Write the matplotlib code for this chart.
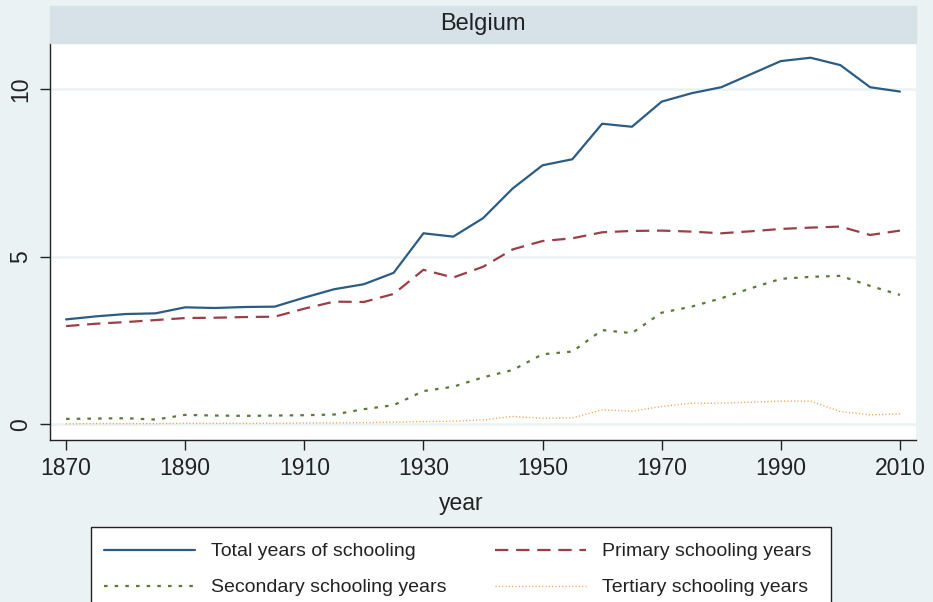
import matplotlib.pyplot as plt
from matplotlib.patches import Rectangle

# Belgium - average years of schooling, every 5 years
years = list(range(1870, 2011, 5))
total = [3.13, 3.22, 3.29, 3.31, 3.49, 3.47, 3.50, 3.51, 3.78, 4.03,
         4.18, 4.52, 5.70, 5.60, 6.15, 7.04, 7.73, 7.91, 8.97, 8.88,
         9.63, 9.88, 10.06, 10.45, 10.84, 10.94, 10.72, 10.06, 9.93]
primary = [2.93, 3.00, 3.05, 3.11, 3.17, 3.18, 3.20, 3.21, 3.45, 3.66,
           3.65, 3.89, 4.61, 4.38, 4.70, 5.22, 5.47, 5.55, 5.73, 5.77,
           5.78, 5.75, 5.70, 5.76, 5.83, 5.87, 5.90, 5.65, 5.78]
secondary = [0.16, 0.17, 0.18, 0.14, 0.28, 0.26, 0.25, 0.26, 0.27, 0.29,
             0.45, 0.57, 0.99, 1.12, 1.40, 1.62, 2.09, 2.17, 2.81, 2.72,
             3.33, 3.51, 3.76, 4.06, 4.34, 4.40, 4.43, 4.13, 3.86]
tertiary = [0.01, 0.02, 0.02, 0.02, 0.03, 0.03, 0.03, 0.03, 0.04, 0.04,
            0.05, 0.06, 0.08, 0.09, 0.13, 0.23, 0.18, 0.19, 0.43, 0.39,
            0.53, 0.63, 0.63, 0.66, 0.69, 0.69, 0.38, 0.28, 0.31]

labels = ['Total years of schooling', 'Primary schooling years',
          'Secondary schooling years', 'Tertiary schooling years']
xticks = [1870, 1890, 1910, 1930, 1950, 1970, 1990, 2010]
yticks = [0, 5, 10]

bg = '#eaf2f3'
plt.rcParams['font.family'] = ['Liberation Sans', 'DejaVu Sans']

fig = plt.figure(figsize=(9.33, 6.02), dpi=100, facecolor=bg)
ax = fig.add_axes([50/933, 1 - 440/602, 866/933, 397/602])

l1, = ax.plot(years, total, color='#2a5c84', lw=1.6, solid_capstyle='round')
l2, = ax.plot(years, primary, color='#9a3f48', lw=1.6, dashes=(6, 3.5))
l3, = ax.plot(years, secondary, color='#5a7a37', lw=1.6, dashes=(1.6, 3.2))
l4, = ax.plot(years, tertiary, color='#f0a050', lw=1.0, dashes=(0.8, 1.6))

ax.set_xlim(1867.3, 2012.7)
ax.set_ylim(-0.47, 11.38)
ax.set_xticks(xticks)
ax.set_yticks(yticks)
ax.grid(axis='y', color=bg, lw=1.8)
ax.set_axisbelow(True)
for s in ['top', 'right']:
    ax.spines[s].set_visible(False)
for s in ['left', 'bottom']:
    ax.spines[s].set_color('#222222')
    ax.spines[s].set_linewidth(1.0)
ax.tick_params(axis='both', direction='out', length=7, width=1.0,
               color='#222222', labelsize=16.5, labelcolor='#222222')
ax.tick_params(axis='x', pad=5)
ax.tick_params(axis='y', pad=6)
for t in ax.get_yticklabels():
    t.set_rotation(90)
    t.set_va('center')

ax.set_xlabel('year', fontsize=16.5, color='#222222')
ax.xaxis.set_label_coords(411/866, -0.132)

# title strip
fig.patches.append(Rectangle((50/933, 1 - 43/602), 866/933, 37/602,
                             transform=fig.transFigure, color='#d6e2e8', zorder=0))
fig.text(483/933, 1 - 24/602, 'Belgium', ha='center', va='center',
         fontsize=17, color='#222222')

# legend box (runs off the bottom of the figure)
fig.patches.append(Rectangle((91/933, -0.05), 740/933, 0.05 + 75/602,
                             transform=fig.transFigure, facecolor='white',
                             edgecolor='#222222', lw=1.0, zorder=0))
# legend fills column-wise, so order handles to read row-wise
fig.legend([l1, l3, l2, l4], [labels[0], labels[2], labels[1], labels[3]],
           ncol=2, frameon=False,
           loc='upper left', bbox_to_anchor=(96/933, 1 - 535/602),
           fontsize=14, handlelength=4.7, handletextpad=0.8,
           columnspacing=2.5, labelspacing=0.95, borderaxespad=0,
           labelcolor='#222222')

fig.savefig('out.png', dpi=100, facecolor=bg)
